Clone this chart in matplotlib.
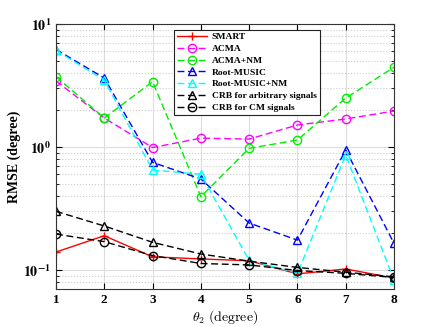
import matplotlib
matplotlib.use("Agg")
import matplotlib.pyplot as plt
import numpy as np
from matplotlib.ticker import LogLocator, NullFormatter, FuncFormatter

theta2 = [1, 2, 3, 4, 5, 6, 7, 8]
smart = [0.14, 0.19, 0.128, 0.123, 0.119, 0.093, 0.102, 0.086]
acma = [3.44, 1.72, 0.99, 1.18, 1.16, 1.51, 1.69, 1.96]
acma_nm = [3.73, 1.72, 3.40, 0.394, 0.975, 1.14, 2.5, 4.45]
rmusic = [6.2, 3.64, 0.75, 0.55, 0.241, 0.175, 0.946, 0.165]
rmusic_nm = [6.1, 3.5, 0.65, 0.60, 0.12, 0.094, 0.86, 0.083]
crb_arb = [0.30, 0.228, 0.168, 0.135, 0.118, 0.105, 0.096, 0.088]
crb_cm = [0.196, 0.17, 0.131, 0.113, 0.11, 0.099, 0.094, 0.087]

plt.rcParams['font.family'] = ['Liberation Serif', 'DejaVu Serif']
plt.rcParams['mathtext.fontset'] = 'cm'

fig = plt.figure(figsize=(4.36, 3.27), dpi=100)
ax = fig.add_axes([56/436, 38/327, 338/436, 265/327])

lw = 1.0
ms = 6
dash = (5, 2.6)
ax.plot(theta2, smart, color='red', ls='-', marker='+', ms=ms, lw=lw, label='SMART')
ax.plot(theta2, acma, color='magenta', ls=(0, dash), marker='o', mfc='none', ms=ms, lw=lw, label='ACMA')
ax.plot(theta2, acma_nm, color='#00ee00', ls=(0, dash), marker='o', mfc='none', ms=ms, lw=lw, label='ACMA+NM')
ax.plot(theta2, rmusic, color='blue', ls=(0, dash), marker='^', mfc='none', ms=ms, lw=lw, label='Root-MUSIC')
ax.plot(theta2, rmusic_nm, color='cyan', ls=(0, dash), marker='^', mfc='none', ms=ms, lw=lw, label='Root-MUSIC+NM')
ax.plot(theta2, crb_arb, color='black', ls=(0, dash), marker='^', mfc='none', ms=ms, lw=lw, label='CRB for arbitrary signals')
ax.plot(theta2, crb_cm, color='black', ls=(0, dash), marker='o', mfc='none', ms=ms, lw=lw, label='CRB for CM signals')

ax.set_yscale('log')
ax.set_xlim(1, 8)
ax.set_ylim(0.0701, 10)
ax.set_xticks(theta2)
ax.yaxis.set_major_locator(LogLocator(base=10, numticks=10))
ax.yaxis.set_minor_locator(LogLocator(base=10, subs=np.arange(2, 10), numticks=20))
ax.yaxis.set_minor_formatter(NullFormatter())
ax.yaxis.set_major_formatter(FuncFormatter(lambda v, p: r'$\mathbf{10^{%d}}$' % int(round(np.log10(v)))))

ax.grid(True, which='major', color='#dddddd', ls='-', lw=0.8)
ax.grid(True, which='minor', axis='y', color='#cccccc', ls=':', lw=0.8)
ax.set_axisbelow(True)

ax.tick_params(which='both', direction='in', top=True, right=True, labelsize=9.5)
ax.tick_params(which='major', length=4)
ax.tick_params(which='minor', length=2)
fig.canvas.draw()
for lab in ax.get_xticklabels():
    lab.set_fontweight('bold')
for lab in ax.get_yticklabels():
    lab.set_math_fontfamily('stix')
    lab.set_fontsize(10)
for s in ax.spines.values():
    s.set_color('#333333')
    s.set_linewidth(0.8)

ax.set_xlabel(r'$\theta_2\ \mathrm{(degree)}$', fontsize=10, labelpad=2)
ax.set_ylabel('RMSE (degree)', fontsize=10, fontweight='bold', labelpad=2)

leg = ax.legend(loc='upper left', bbox_to_anchor=(0.349, 0.979), prop={'family': 'Liberation Serif', 'weight': 'bold', 'size': 6.8},
                frameon=True, fancybox=False, edgecolor='#222222', framealpha=1, handlelength=3.2,
                borderpad=0.35, labelspacing=0.33, handletextpad=0.45, borderaxespad=0)
leg.get_frame().set_linewidth(0.8)

fig.savefig('out.png', dpi=100)
